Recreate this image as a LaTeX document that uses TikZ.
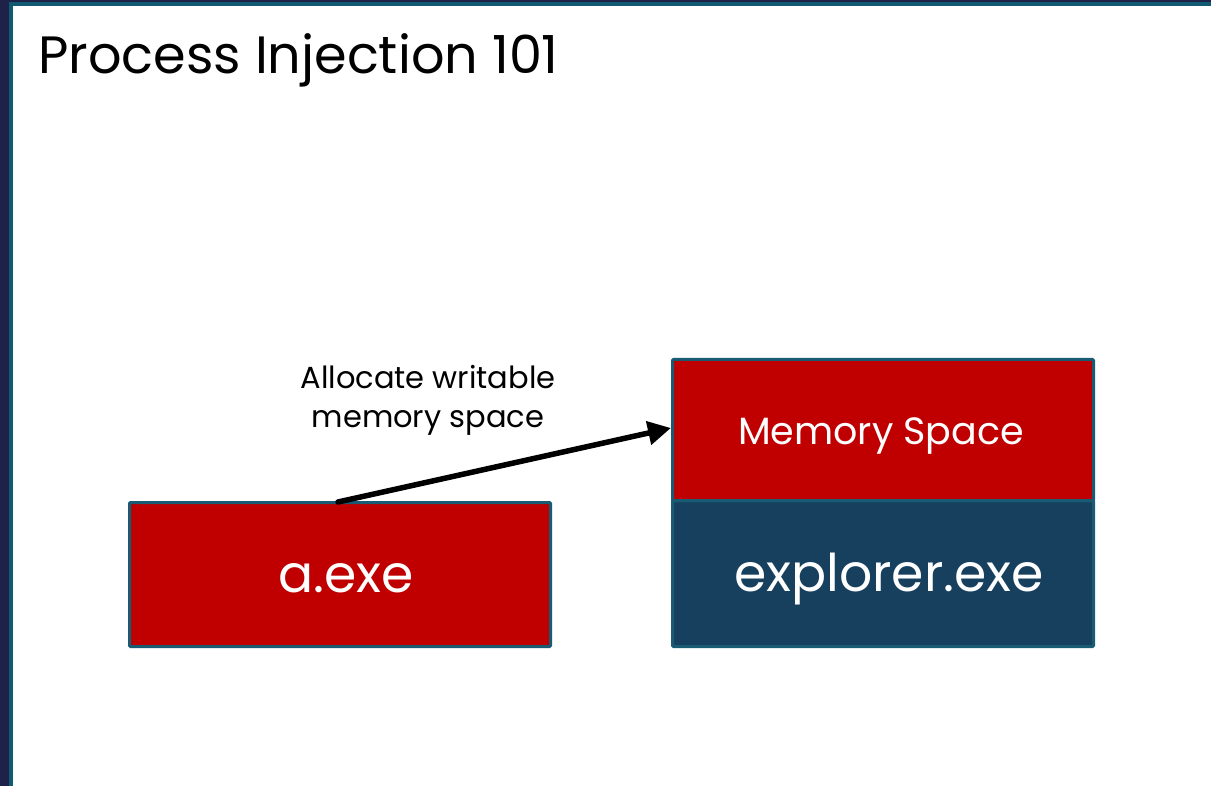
\documentclass[tikz,border=0pt]{standalone}
\usepackage{fontspec}
\setmainfont{Poppins}
\usetikzlibrary{arrows.meta}
\definecolor{navyband}{HTML}{1E2248}
\definecolor{tealband}{HTML}{115A72}
\definecolor{boxred}{HTML}{C00000}
\definecolor{boxblue}{HTML}{17405F}
\definecolor{boxedge}{HTML}{1A5B74}
\tikzset{
  procbox/.style={draw=boxedge, line width=3pt, rounded corners=1pt, inner sep=0pt, anchor=north west},
  boxtext/.style={text=white, font=\fontsize{52}{58}\selectfont},
}
\begin{document}
\begin{tikzpicture}[x=1pt,y=-1pt]
\useasboundingbox (0,0) rectangle (1211,786);
\fill[white] (0,0) rectangle (1211,786);
% frame bands
\fill[navyband] (0,0) rectangle (1211,2.5);
\fill[tealband] (9,2.5) rectangle (1211,6);
\fill[navyband] (0,0) rectangle (9,786);
\fill[tealband] (9,2.5) rectangle (13,786);
% title
\node[anchor=base west, inner sep=0pt, font=\fontsize{52.5}{58}\selectfont] (title) at (38,74) {Process Injection 101};
% boxes
\node[procbox, fill=boxred, minimum width=421pt, minimum height=144pt] (aexe) at (128,501) {};
\node[boxtext, anchor=base] (aexelbl) at (346,592) {a.exe};
\node[procbox, fill=boxblue, minimum width=421pt, minimum height=146pt] (explorer) at (671,499) {};
\node[procbox, fill=boxred, minimum width=421pt, minimum height=141pt] (mem) at (671,358) {};
\node[text=white, anchor=base, font=\fontsize{38}{44}\selectfont] (memlbl) at (881,445) {Memory Space};
\node[boxtext, anchor=base] (explbl) at (889,591) {explorer.exe};
% arrow
\coordinate (start) at (338,502);
\draw[line width=5.5pt, line cap=round, -{Triangle[length=23pt,width=23pt]}] (start) -- (mem.west |- 0,428);
\node[align=center, anchor=base, inner sep=0pt, font=\fontsize{30.5}{39}\selectfont] (lbl) at (428,428) {Allocate writable\\memory space};
\end{tikzpicture}
\end{document}
